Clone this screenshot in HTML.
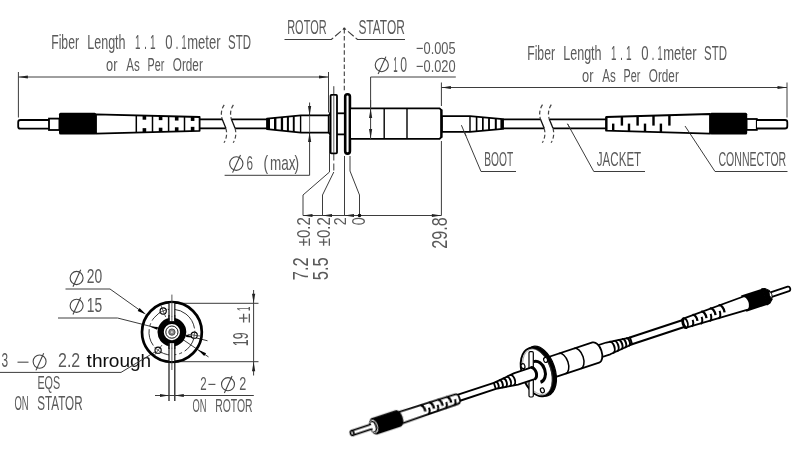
<!DOCTYPE html>
<html><head><meta charset="utf-8"><title>Fiber optic rotary joint drawing</title>
<style>
html,body{margin:0;padding:0;background:#fff;}
body{width:800px;height:454px;overflow:hidden;font-family:"Liberation Sans",sans-serif;}
svg{display:block;}
svg text{font-family:"Liberation Sans",sans-serif;}
</style></head><body>
<svg width="800" height="454" viewBox="0 0 800 454">
<defs><filter id="soft" x="0" y="0" width="800" height="454" filterUnits="userSpaceOnUse"><feGaussianBlur stdDeviation="0.35"/></filter></defs>
<rect x="0" y="0" width="800" height="454" fill="#ffffff"/>
<g filter="url(#soft)">
<text x="51.20" y="48.70" font-size="20.29" textLength="27.80" lengthAdjust="spacingAndGlyphs" fill="#5a5a5a" >Fiber</text>
<text x="87.20" y="48.70" font-size="20.29" textLength="38.40" lengthAdjust="spacingAndGlyphs" fill="#5a5a5a" >Length</text>
<text x="135.00" y="48.70" font-size="20.29" textLength="5.40" lengthAdjust="spacingAndGlyphs" fill="#5a5a5a" >1</text>
<text x="144.00" y="48.70" font-size="20.29" textLength="3.00" lengthAdjust="spacingAndGlyphs" fill="#5a5a5a" >.</text>
<text x="150.00" y="48.70" font-size="20.29" textLength="5.60" lengthAdjust="spacingAndGlyphs" fill="#5a5a5a" >1</text>
<text x="165.30" y="48.70" font-size="20.29" textLength="7.30" lengthAdjust="spacingAndGlyphs" fill="#5a5a5a" >0</text>
<text x="175.50" y="48.70" font-size="20.29" textLength="3.00" lengthAdjust="spacingAndGlyphs" fill="#5a5a5a" >.</text>
<text x="181.60" y="48.70" font-size="20.29" textLength="5.00" lengthAdjust="spacingAndGlyphs" fill="#5a5a5a" >1</text>
<text x="187.20" y="48.70" font-size="20.29" textLength="33.30" lengthAdjust="spacingAndGlyphs" fill="#5a5a5a" >meter</text>
<text x="228.00" y="48.70" font-size="20.29" textLength="22.90" lengthAdjust="spacingAndGlyphs" fill="#5a5a5a" >STD</text>
<text x="106.00" y="70.60" font-size="19.28" textLength="11.40" lengthAdjust="spacingAndGlyphs" fill="#5a5a5a" >or</text>
<text x="126.30" y="70.60" font-size="19.28" textLength="13.50" lengthAdjust="spacingAndGlyphs" fill="#5a5a5a" >As</text>
<text x="147.50" y="70.60" font-size="19.28" textLength="16.80" lengthAdjust="spacingAndGlyphs" fill="#5a5a5a" >Per</text>
<text x="172.80" y="70.60" font-size="19.28" textLength="30.00" lengthAdjust="spacingAndGlyphs" fill="#5a5a5a" >Order</text>
<text x="527.20" y="60.00" font-size="20.29" textLength="27.80" lengthAdjust="spacingAndGlyphs" fill="#5a5a5a" >Fiber</text>
<text x="563.20" y="60.00" font-size="20.29" textLength="38.40" lengthAdjust="spacingAndGlyphs" fill="#5a5a5a" >Length</text>
<text x="611.00" y="60.00" font-size="20.29" textLength="5.40" lengthAdjust="spacingAndGlyphs" fill="#5a5a5a" >1</text>
<text x="620.00" y="60.00" font-size="20.29" textLength="3.00" lengthAdjust="spacingAndGlyphs" fill="#5a5a5a" >.</text>
<text x="626.00" y="60.00" font-size="20.29" textLength="5.60" lengthAdjust="spacingAndGlyphs" fill="#5a5a5a" >1</text>
<text x="641.30" y="60.00" font-size="20.29" textLength="7.30" lengthAdjust="spacingAndGlyphs" fill="#5a5a5a" >0</text>
<text x="651.50" y="60.00" font-size="20.29" textLength="3.00" lengthAdjust="spacingAndGlyphs" fill="#5a5a5a" >.</text>
<text x="657.60" y="60.00" font-size="20.29" textLength="5.00" lengthAdjust="spacingAndGlyphs" fill="#5a5a5a" >1</text>
<text x="663.20" y="60.00" font-size="20.29" textLength="33.30" lengthAdjust="spacingAndGlyphs" fill="#5a5a5a" >meter</text>
<text x="704.00" y="60.00" font-size="20.29" textLength="22.90" lengthAdjust="spacingAndGlyphs" fill="#5a5a5a" >STD</text>
<text x="582.00" y="81.90" font-size="19.28" textLength="11.40" lengthAdjust="spacingAndGlyphs" fill="#5a5a5a" >or</text>
<text x="602.30" y="81.90" font-size="19.28" textLength="13.50" lengthAdjust="spacingAndGlyphs" fill="#5a5a5a" >As</text>
<text x="623.50" y="81.90" font-size="19.28" textLength="16.80" lengthAdjust="spacingAndGlyphs" fill="#5a5a5a" >Per</text>
<text x="648.80" y="81.90" font-size="19.28" textLength="30.00" lengthAdjust="spacingAndGlyphs" fill="#5a5a5a" >Order</text>
<text x="287.20" y="33.80" font-size="20.00" textLength="39.40" lengthAdjust="spacingAndGlyphs" fill="#5a5a5a" >ROTOR</text>
<text x="358.40" y="33.80" font-size="20.00" textLength="46.40" lengthAdjust="spacingAndGlyphs" fill="#5a5a5a" >STATOR</text>
<line x1="284.50" y1="39.50" x2="331.80" y2="39.50" stroke="#3c3c3c" stroke-width="1.0" />
<line x1="357.00" y1="39.50" x2="405.00" y2="39.50" stroke="#3c3c3c" stroke-width="1.0" />
<line x1="331.30" y1="39.50" x2="344.30" y2="28.30" stroke="#3c3c3c" stroke-width="1.1" stroke-dasharray="2.5 2.5 7.5 2.7 3"/>
<line x1="357.50" y1="39.50" x2="344.30" y2="28.30" stroke="#3c3c3c" stroke-width="1.1" stroke-dasharray="2.5 2.5 7.5 2.7 3"/>
<circle cx="344.3" cy="28.6" r="1.1" fill="#333"/>
<line x1="344.30" y1="29.00" x2="344.30" y2="93.00" stroke="#3c3c3c" stroke-width="1.1" stroke-dasharray="4.5 2.6"/>
<line x1="18.40" y1="72.00" x2="18.40" y2="117.50" stroke="#3c3c3c" stroke-width="1.0" />
<line x1="18.40" y1="77.00" x2="328.50" y2="77.00" stroke="#3c3c3c" stroke-width="1.0" />
<polygon points="18.40,77.00 27.90,75.40 27.90,78.60" fill="#222"/>
<polygon points="328.50,77.00 319.00,78.60 319.00,75.40" fill="#222"/>
<line x1="328.50" y1="72.00" x2="328.50" y2="112.50" stroke="#3c3c3c" stroke-width="1.0" />
<line x1="441.40" y1="82.50" x2="441.40" y2="106.00" stroke="#3c3c3c" stroke-width="1.0" />
<line x1="441.40" y1="87.50" x2="787.00" y2="87.50" stroke="#3c3c3c" stroke-width="1.0" />
<polygon points="441.40,87.50 450.90,85.90 450.90,89.10" fill="#222"/>
<polygon points="787.00,87.50 777.50,89.10 777.50,85.90" fill="#222"/>
<line x1="787.00" y1="82.50" x2="787.00" y2="117.50" stroke="#3c3c3c" stroke-width="1.0" />
<line x1="370.60" y1="77.00" x2="370.60" y2="139.00" stroke="#3c3c3c" stroke-width="1.0" />
<line x1="370.60" y1="77.00" x2="455.80" y2="77.00" stroke="#3c3c3c" stroke-width="1.0" />
<polygon points="370.60,108.40 372.20,117.90 369.00,117.90" fill="#222"/>
<polygon points="370.60,138.70 369.00,129.20 372.20,129.20" fill="#222"/>
<ellipse cx="381.80" cy="65.00" rx="6.57" ry="6.70" fill="none" stroke="#444" stroke-width="1.1"/>
<line x1="378.12" y1="73.91" x2="385.95" y2="56.62" stroke="#444" stroke-width="1.1" />
<text x="393.20" y="71.80" font-size="21.45" textLength="4.40" lengthAdjust="spacingAndGlyphs" fill="#5a5a5a" >1</text>
<text x="400.20" y="71.80" font-size="21.45" textLength="6.80" lengthAdjust="spacingAndGlyphs" fill="#5a5a5a" >0</text>
<text x="416.00" y="54.40" font-size="16.81" textLength="39.60" lengthAdjust="spacingAndGlyphs" fill="#5a5a5a" >−0.005</text>
<text x="416.00" y="72.00" font-size="16.81" textLength="39.60" lengthAdjust="spacingAndGlyphs" fill="#5a5a5a" >−0.020</text>
<line x1="309.60" y1="102.50" x2="309.60" y2="175.30" stroke="#3c3c3c" stroke-width="1.0" />
<line x1="224.60" y1="175.30" x2="309.60" y2="175.30" stroke="#3c3c3c" stroke-width="1.0" />
<polygon points="309.60,115.40 308.00,105.90 311.20,105.90" fill="#222"/>
<polygon points="309.60,132.50 311.20,142.00 308.00,142.00" fill="#222"/>
<ellipse cx="236.30" cy="163.60" rx="6.66" ry="6.80" fill="none" stroke="#444" stroke-width="1.1"/>
<line x1="232.56" y1="172.64" x2="240.52" y2="155.10" stroke="#444" stroke-width="1.1" />
<text x="246.60" y="170.00" font-size="19.42" textLength="6.50" lengthAdjust="spacingAndGlyphs" fill="#5a5a5a" >6</text>
<text x="263.60" y="170.00" font-size="20.72" textLength="4.60" lengthAdjust="spacingAndGlyphs" fill="#5a5a5a" >(</text>
<text x="270.00" y="170.00" font-size="19.42" textLength="25.60" lengthAdjust="spacingAndGlyphs" fill="#5a5a5a" >max</text>
<text x="294.60" y="170.00" font-size="20.72" textLength="4.60" lengthAdjust="spacingAndGlyphs" fill="#5a5a5a" >)</text>
<polyline points="461.40,125.20 481.00,171.50 516.00,171.50" fill="none" stroke="#3c3c3c" stroke-width="1.0" />
<text x="484.30" y="166.10" font-size="20.29" textLength="28.90" lengthAdjust="spacingAndGlyphs" fill="#5a5a5a" >BOOT</text>
<polyline points="567.50,123.80 593.80,171.50 645.00,171.50" fill="none" stroke="#3c3c3c" stroke-width="1.0" />
<text x="596.80" y="166.10" font-size="20.29" textLength="44.40" lengthAdjust="spacingAndGlyphs" fill="#5a5a5a" >JACKET</text>
<polyline points="685.00,126.00 715.00,171.50 787.50,171.50" fill="none" stroke="#3c3c3c" stroke-width="1.0" />
<text x="718.50" y="166.10" font-size="20.29" textLength="67.70" lengthAdjust="spacingAndGlyphs" fill="#5a5a5a" >CONNECTOR</text>
<polyline points="329.50,136.00 329.50,172.00 303.00,195.00 303.00,215.50" fill="none" stroke="#3c3c3c" stroke-width="1.0" />
<line x1="333.80" y1="153.50" x2="333.80" y2="172.00" stroke="#3c3c3c" stroke-width="1.0" stroke-dasharray="7 3"/>
<polyline points="333.80,172.00 322.50,195.00 322.50,215.50" fill="none" stroke="#3c3c3c" stroke-width="1.0" />
<line x1="344.50" y1="156.00" x2="344.50" y2="215.50" stroke="#3c3c3c" stroke-width="1.0" />
<polyline points="350.00,156.00 350.00,171.00 359.50,195.00 359.50,215.50" fill="none" stroke="#3c3c3c" stroke-width="1.0" />
<line x1="441.40" y1="141.00" x2="441.40" y2="215.50" stroke="#3c3c3c" stroke-width="1.0" />
<line x1="303.00" y1="215.50" x2="441.40" y2="215.50" stroke="#3c3c3c" stroke-width="1.0" />
<polygon points="303.00,215.50 312.50,213.90 312.50,217.10" fill="#222"/>
<polygon points="322.50,215.50 332.00,213.90 332.00,217.10" fill="#222"/>
<polygon points="344.50,215.50 354.00,213.90 354.00,217.10" fill="#222"/>
<polygon points="441.40,215.50 431.90,217.10 431.90,213.90" fill="#222"/>
<circle cx="359.5" cy="215.5" r="1.8" fill="#111"/>
<text transform="translate(307.90,280.20) rotate(-90)" x="0" y="0" font-size="21.74" textLength="22.90" lengthAdjust="spacingAndGlyphs" fill="#5a5a5a">7.2</text>
<text transform="translate(310.40,246.20) rotate(-90)" x="0" y="0" font-size="17.83" textLength="29.00" lengthAdjust="spacingAndGlyphs" fill="#5a5a5a">±0.2</text>
<text transform="translate(327.90,280.20) rotate(-90)" x="0" y="0" font-size="21.74" textLength="22.90" lengthAdjust="spacingAndGlyphs" fill="#5a5a5a">5.5</text>
<text transform="translate(330.40,246.20) rotate(-90)" x="0" y="0" font-size="17.83" textLength="29.00" lengthAdjust="spacingAndGlyphs" fill="#5a5a5a">±0.2</text>
<text transform="translate(346.00,225.20) rotate(-90)" x="0" y="0" font-size="16.67" textLength="8.00" lengthAdjust="spacingAndGlyphs" fill="#5a5a5a">2</text>
<text transform="translate(365.00,225.20) rotate(-90)" x="0" y="0" font-size="18.84" textLength="8.00" lengthAdjust="spacingAndGlyphs" fill="#5a5a5a">0</text>
<text transform="translate(446.50,248.80) rotate(-90)" x="0" y="0" font-size="21.74" textLength="31.60" lengthAdjust="spacingAndGlyphs" fill="#5a5a5a">29.8</text>
<path d="M49,120 H20.5 Q18.2,120 18.2,122.3 V126.4 Q18.2,128.7 20.5,128.7 H49" fill="#fff" stroke="#000" stroke-width="1.8"/>
<rect x="49.0" y="118.6" width="10.4" height="11.4" fill="#fff" stroke="#000" stroke-width="1.8"/>
<polygon points="96,114.3 199.6,117.0 199.6,130.8 96,133.6" fill="#fff" stroke="#000" stroke-width="1.8" stroke-linejoin="round"/>
<rect x="59" y="112.8" width="37.2" height="21.8" rx="1.5" fill="#000"/>
<line x1="136.30" y1="115.33" x2="136.30" y2="132.53" stroke="#000" stroke-width="1.5" />
<rect x="142.60" y="115.51" width="3.6" height="4.2" fill="#000"/>
<rect x="142.60" y="128.14" width="3.6" height="4.2" fill="#000"/>
<line x1="152.50" y1="115.75" x2="152.50" y2="132.09" stroke="#000" stroke-width="1.5" />
<rect x="158.80" y="115.94" width="3.6" height="4.2" fill="#000"/>
<rect x="158.80" y="127.70" width="3.6" height="4.2" fill="#000"/>
<line x1="168.60" y1="116.17" x2="168.60" y2="131.66" stroke="#000" stroke-width="1.5" />
<rect x="174.90" y="116.36" width="3.6" height="4.2" fill="#000"/>
<rect x="174.90" y="127.27" width="3.6" height="4.2" fill="#000"/>
<line x1="184.50" y1="116.59" x2="184.50" y2="131.23" stroke="#000" stroke-width="1.5" />
<rect x="190.80" y="116.77" width="3.6" height="4.2" fill="#000"/>
<rect x="190.80" y="126.84" width="3.6" height="4.2" fill="#000"/>
<line x1="199.60" y1="119.35" x2="222.30" y2="119.35" stroke="#000" stroke-width="1.8" />
<line x1="199.60" y1="128.35" x2="226.00" y2="128.35" stroke="#000" stroke-width="1.8" />
<line x1="231.50" y1="119.35" x2="267.00" y2="119.35" stroke="#000" stroke-width="1.8" />
<line x1="234.90" y1="128.35" x2="267.00" y2="128.35" stroke="#000" stroke-width="1.8" />
<path d="M224.20,104.8 C220.70,110 221.00,115 222.20,119.35" fill="none" stroke="#444" stroke-width="1.2" stroke-dasharray="4 2.4"/>
<line x1="222.20" y1="119.35" x2="225.90" y2="128.35" stroke="#111" stroke-width="1.3" />
<path d="M225.90,128.35 C227.20,133 226.80,138 224.00,142.8" fill="none" stroke="#444" stroke-width="1.2" stroke-dasharray="4 2.4"/>
<path d="M233.40,104.8 C229.90,110 230.20,115 231.40,119.35" fill="none" stroke="#444" stroke-width="1.2" stroke-dasharray="4 2.4"/>
<line x1="231.40" y1="119.35" x2="235.10" y2="128.35" stroke="#111" stroke-width="1.3" />
<path d="M235.10,128.35 C236.40,133 236.00,138 233.20,142.8" fill="none" stroke="#444" stroke-width="1.2" stroke-dasharray="4 2.4"/>
<polygon points="267,118.6 301,115.3 328.7,115.3 328.7,132.6 301,132.6 267,129.1" fill="#fff" stroke="#000" stroke-width="1.8" stroke-linejoin="round"/>
<rect x="267.00" y="118.45" width="3.0" height="10.80" fill="#000"/>
<rect x="274.00" y="117.80" width="2.4" height="12.14" fill="#000"/>
<rect x="280.80" y="117.15" width="2.3" height="13.49" fill="#000"/>
<rect x="286.90" y="116.57" width="2.0" height="14.68" fill="#000"/>
<rect x="292.80" y="116.00" width="1.9" height="15.85" fill="#000"/>
<rect x="299.90" y="115.34" width="1.4" height="17.22" fill="#000"/>
<line x1="309.60" y1="115.40" x2="309.60" y2="132.50" stroke="#555" stroke-width="0.9" />
<line x1="333.80" y1="86.20" x2="333.80" y2="95.00" stroke="#3c3c3c" stroke-width="1.0" />
<path d="M328.7,115.3 Q330.2,114.6 330.5,112 M328.7,132.6 Q330.2,133.3 330.5,136" fill="none" stroke="#000" stroke-width="1.8"/>
<rect x="330.6" y="94.9" width="6.4" height="58.4" rx="0.8" fill="#fff" stroke="#000" stroke-width="1.8"/>
<line x1="333.80" y1="95.00" x2="333.80" y2="153.00" stroke="#555" stroke-width="0.9" />
<line x1="337.10" y1="113.30" x2="344.50" y2="113.30" stroke="#000" stroke-width="1.8" />
<line x1="337.10" y1="134.40" x2="344.50" y2="134.40" stroke="#000" stroke-width="1.8" />
<rect x="345.2" y="94.2" width="4.7" height="59.4" rx="2.3" fill="#fff" stroke="#000" stroke-width="2.6"/>
<path d="M351,108.4 H439.6 L441.4,110.2 V137.0 L439.6,138.8 H351" fill="#fff" stroke="#000" stroke-width="1.8" stroke-linejoin="round"/>
<line x1="441.40" y1="109.50" x2="441.40" y2="137.70" stroke="#000" stroke-width="2.2" />
<line x1="384.20" y1="108.40" x2="384.20" y2="138.80" stroke="#000" stroke-width="1.4" />
<line x1="407.00" y1="108.40" x2="407.00" y2="138.80" stroke="#000" stroke-width="1.4" />
<line x1="370.60" y1="100.00" x2="370.60" y2="139.00" stroke="#3c3c3c" stroke-width="1.0" />
<polygon points="370.60,108.60 372.20,118.10 369.00,118.10" fill="#222"/>
<polygon points="370.60,138.60 369.00,129.10 372.20,129.10" fill="#222"/>
<polygon points="442,116.2 470,116.2 503,119.2 503,128.9 470,131.8 442,131.8" fill="#fff" stroke="#000" stroke-width="1.8" stroke-linejoin="round"/>
<rect x="469.30" y="116.20" width="1.4" height="15.60" fill="#000"/>
<rect x="475.80" y="116.80" width="1.6" height="14.42" fill="#000"/>
<rect x="482.00" y="117.37" width="1.7" height="13.30" fill="#000"/>
<rect x="488.10" y="117.93" width="1.8" height="12.20" fill="#000"/>
<rect x="494.80" y="118.55" width="2.0" height="10.99" fill="#000"/>
<rect x="500.40" y="119.10" width="3.0" height="9.90" fill="#000"/>
<line x1="503.00" y1="119.35" x2="540.60" y2="119.35" stroke="#000" stroke-width="1.8" />
<line x1="503.00" y1="128.35" x2="544.30" y2="128.35" stroke="#000" stroke-width="1.8" />
<line x1="549.40" y1="119.35" x2="606.00" y2="119.35" stroke="#000" stroke-width="1.8" />
<line x1="553.00" y1="128.35" x2="606.00" y2="128.35" stroke="#000" stroke-width="1.8" />
<path d="M542.50,104.6 C539.00,110 539.30,115 540.50,119.35" fill="none" stroke="#444" stroke-width="1.2" stroke-dasharray="4 2.4"/>
<line x1="540.50" y1="119.35" x2="544.20" y2="128.35" stroke="#111" stroke-width="1.3" />
<path d="M544.20,128.35 C545.50,133 545.10,138 542.30,142.8" fill="none" stroke="#444" stroke-width="1.2" stroke-dasharray="4 2.4"/>
<path d="M551.30,104.6 C547.80,110 548.10,115 549.30,119.35" fill="none" stroke="#444" stroke-width="1.2" stroke-dasharray="4 2.4"/>
<line x1="549.30" y1="119.35" x2="553.00" y2="128.35" stroke="#111" stroke-width="1.3" />
<path d="M553.00,128.35 C554.30,133 553.90,138 551.10,142.8" fill="none" stroke="#444" stroke-width="1.2" stroke-dasharray="4 2.4"/>
<polygon points="606.2,117.0 710,114.0 710,133.6 606.2,130.7" fill="#fff" stroke="#000" stroke-width="1.8" stroke-linejoin="round"/>
<line x1="606.40" y1="117.00" x2="606.40" y2="130.70" stroke="#000" stroke-width="2.2" />
<rect x="620.70" y="116.55" width="2.4" height="9.05" fill="#000"/>
<rect x="636.40" y="116.09" width="2.4" height="9.51" fill="#000"/>
<rect x="652.30" y="115.63" width="2.4" height="9.97" fill="#000"/>
<rect x="668.20" y="115.17" width="2.4" height="10.43" fill="#000"/>
<rect x="612.00" y="123.6" width="2.4" height="7.30" fill="#000"/>
<rect x="627.80" y="123.6" width="2.4" height="7.74" fill="#000"/>
<rect x="643.80" y="123.6" width="2.4" height="8.18" fill="#000"/>
<rect x="659.70" y="123.6" width="2.4" height="8.63" fill="#000"/>
<rect x="710" y="112.8" width="37.2" height="21.8" rx="1.5" fill="#000"/>
<rect x="746.6" y="119.0" width="10.2" height="10.9" fill="#fff" stroke="#000" stroke-width="1.8"/>
<path d="M757,120 H785.0 Q787.3,120 787.3,122.3 V126.2 Q787.3,128.5 785.0,128.5 H757" fill="#fff" stroke="#000" stroke-width="1.8"/>
<line x1="461.40" y1="125.20" x2="466.00" y2="136.00" stroke="#3c3c3c" stroke-width="1.0" />
<line x1="567.50" y1="123.80" x2="570.50" y2="129.20" stroke="#3c3c3c" stroke-width="1.0" />
<line x1="685.00" y1="126.00" x2="690.00" y2="133.50" stroke="#3c3c3c" stroke-width="1.0" />
<ellipse cx="76.60" cy="278.00" rx="6.47" ry="6.60" fill="none" stroke="#444" stroke-width="1.1"/>
<line x1="72.97" y1="286.78" x2="80.69" y2="269.75" stroke="#444" stroke-width="1.1" />
<text x="86.80" y="283.40" font-size="19.42" textLength="15.40" lengthAdjust="spacingAndGlyphs" fill="#5a5a5a" >20</text>
<polyline points="65.50,289.00 110.00,289.00 143.60,312.90" fill="none" stroke="#3c3c3c" stroke-width="1.0" />
<ellipse cx="76.60" cy="305.80" rx="6.47" ry="6.60" fill="none" stroke="#444" stroke-width="1.1"/>
<line x1="72.97" y1="314.58" x2="80.69" y2="297.55" stroke="#444" stroke-width="1.1" />
<text x="86.80" y="312.10" font-size="19.42" textLength="15.40" lengthAdjust="spacingAndGlyphs" fill="#5a5a5a" >15</text>
<text x="1.60" y="367.20" font-size="19.42" textLength="6.60" lengthAdjust="spacingAndGlyphs" fill="#5a5a5a" >3</text>
<line x1="17.50" y1="362.20" x2="28.50" y2="362.20" stroke="#5a5a5a" stroke-width="1.2" />
<ellipse cx="39.60" cy="361.60" rx="6.47" ry="6.60" fill="none" stroke="#444" stroke-width="1.1"/>
<line x1="35.97" y1="370.38" x2="43.69" y2="353.35" stroke="#444" stroke-width="1.1" />
<text x="58.00" y="367.20" font-size="19.42" textLength="22.20" lengthAdjust="spacingAndGlyphs" fill="#5a5a5a" >2.2</text>
<text x="86.6" y="367.45" font-size="18.3" textLength="64.6" lengthAdjust="spacingAndGlyphs" fill="#0a0a0a">through</text>
<polyline points="0.00,372.40 121.00,372.40 155.60,351.60" fill="none" stroke="#3c3c3c" stroke-width="1.0" />
<text x="37.40" y="389.20" font-size="19.13" textLength="22.80" lengthAdjust="spacingAndGlyphs" fill="#5a5a5a" >EQS</text>
<text x="14.40" y="409.80" font-size="19.42" textLength="14.20" lengthAdjust="spacingAndGlyphs" fill="#5a5a5a" >ON</text>
<text x="37.20" y="409.80" font-size="19.42" textLength="45.40" lengthAdjust="spacingAndGlyphs" fill="#5a5a5a" >STATOR</text>
<text x="200.20" y="390.20" font-size="19.13" textLength="6.40" lengthAdjust="spacingAndGlyphs" fill="#5a5a5a" >2</text>
<line x1="208.40" y1="384.40" x2="215.40" y2="384.40" stroke="#5a5a5a" stroke-width="1.2" />
<ellipse cx="228.00" cy="384.20" rx="6.47" ry="6.60" fill="none" stroke="#444" stroke-width="1.1"/>
<line x1="224.37" y1="392.98" x2="232.09" y2="375.95" stroke="#444" stroke-width="1.1" />
<text x="239.20" y="390.20" font-size="19.13" textLength="7.00" lengthAdjust="spacingAndGlyphs" fill="#5a5a5a" >2</text>
<text x="192.40" y="412.20" font-size="19.13" textLength="14.00" lengthAdjust="spacingAndGlyphs" fill="#5a5a5a" >ON</text>
<text x="215.20" y="412.20" font-size="19.13" textLength="37.40" lengthAdjust="spacingAndGlyphs" fill="#5a5a5a" >ROTOR</text>
<polyline points="58.00,318.00 117.50,318.00 207.50,340.77" fill="none" stroke="#3c3c3c" stroke-width="1.0" />
<line x1="171.90" y1="332.10" x2="208.50" y2="356.93" stroke="#3c3c3c" stroke-width="1.0" />
<line x1="171.90" y1="303.30" x2="258.50" y2="303.30" stroke="#3c3c3c" stroke-width="1.0" />
<line x1="171.90" y1="361.70" x2="258.50" y2="361.70" stroke="#3c3c3c" stroke-width="1.0" />
<line x1="253.60" y1="290.00" x2="253.60" y2="375.50" stroke="#3c3c3c" stroke-width="1.0" />
<polygon points="253.60,303.30 252.00,293.80 255.20,293.80" fill="#222"/>
<polygon points="253.60,361.70 255.20,371.20 252.00,371.20" fill="#222"/>
<text transform="translate(248.40,346.20) rotate(-90)" x="0" y="0" font-size="21.16" textLength="13.80" lengthAdjust="spacingAndGlyphs" fill="#5a5a5a">19</text>
<text transform="translate(250.00,323.00) rotate(-90)" x="0" y="0" font-size="18.12" textLength="9.80" lengthAdjust="spacingAndGlyphs" fill="#5a5a5a">±</text>
<text transform="translate(250.00,311.00) rotate(-90)" x="0" y="0" font-size="18.12" textLength="4.40" lengthAdjust="spacingAndGlyphs" fill="#5a5a5a">1</text>
<circle cx="171.9" cy="332.1" r="29.9" fill="none" stroke="#000" stroke-width="2.7"/>
<circle cx="171.9" cy="332.1" r="22.9" fill="none" stroke="#333" stroke-width="0.9" stroke-dasharray="17 3 3 3" transform="rotate(-52 171.9 332.1)"/>
<circle cx="163.2" cy="311.0" r="3.1" fill="#fff" stroke="#000" stroke-width="1.1"/>
<line x1="165.68" y1="317.01" x2="160.72" y2="304.99" stroke="#333" stroke-width="0.8" />
<line x1="159.04" y1="312.72" x2="167.36" y2="309.28" stroke="#333" stroke-width="0.8" />
<circle cx="194.2" cy="335.2" r="3.1" fill="#fff" stroke="#000" stroke-width="1.1"/>
<line x1="187.76" y1="334.31" x2="200.64" y2="336.09" stroke="#333" stroke-width="0.8" />
<line x1="194.82" y1="330.74" x2="193.58" y2="339.66" stroke="#333" stroke-width="0.8" />
<circle cx="158.1" cy="350.2" r="3.1" fill="#fff" stroke="#000" stroke-width="1.1"/>
<line x1="162.04" y1="345.03" x2="154.16" y2="355.37" stroke="#333" stroke-width="0.8" />
<line x1="161.68" y1="352.93" x2="154.52" y2="347.47" stroke="#333" stroke-width="0.8" />
<polygon points="146.08,314.58 137.68,310.94 139.59,308.12" fill="#000"/>
<polygon points="197.72,349.62 206.12,353.26 204.21,356.08" fill="#000"/>
<polygon points="149.70,326.48 157.80,327.09 157.11,329.80" fill="#000"/>
<polygon points="194.10,337.72 186.00,337.11 186.69,334.40" fill="#000"/>
<rect x="169.0" y="303.2" width="5.8" height="57.8" fill="#fff"/>
<line x1="169.00" y1="302.40" x2="169.00" y2="401.00" stroke="#111" stroke-width="1.2" />
<line x1="174.80" y1="302.40" x2="174.80" y2="401.00" stroke="#111" stroke-width="1.2" />
<line x1="171.90" y1="294.60" x2="171.90" y2="370.00" stroke="#444" stroke-width="0.9" />
<circle cx="171.9" cy="332.1" r="11.25" fill="#fff" stroke="#000" stroke-width="6.3"/>
<rect x="169.6" y="316.5" width="4.6" height="4.6" fill="#fff"/>
<rect x="169.6" y="343.2" width="4.6" height="4.6" fill="#fff"/>
<line x1="169.00" y1="315.00" x2="169.00" y2="321.50" stroke="#111" stroke-width="1.2" />
<line x1="174.80" y1="315.00" x2="174.80" y2="321.50" stroke="#111" stroke-width="1.2" />
<line x1="169.00" y1="342.80" x2="169.00" y2="349.00" stroke="#111" stroke-width="1.2" />
<line x1="174.80" y1="342.80" x2="174.80" y2="349.00" stroke="#111" stroke-width="1.2" />
<line x1="171.90" y1="316.00" x2="171.90" y2="321.00" stroke="#444" stroke-width="0.9" />
<line x1="171.90" y1="343.40" x2="171.90" y2="348.50" stroke="#444" stroke-width="0.9" />
<circle cx="171.9" cy="332.1" r="6.1" fill="#fff" stroke="#111" stroke-width="1.0"/>
<circle cx="171.9" cy="332.1" r="3.2" fill="#8a8a8a" stroke="#333" stroke-width="0.8"/>
<circle cx="171.9" cy="332.1" r="0.9" fill="#eee"/>
<line x1="155.00" y1="395.50" x2="253.80" y2="395.50" stroke="#3c3c3c" stroke-width="1.0" />
<polygon points="169.00,395.50 160.00,397.00 160.00,394.00" fill="#222"/>
<polygon points="174.80,395.50 183.80,394.00 183.80,397.00" fill="#222"/>
<g transform="translate(539,371.3) rotate(-18.28)" stroke-linejoin="round" stroke-linecap="butt">
<path d="M243,-2.35 L262.6,-2.35 A1.9,2.35 0 0 1 262.6,2.35 L243,2.35" fill="#fff" stroke="#000" stroke-width="1.8"/>
<path d="M237.5,-8.5 L240.4,-7.9 L244.0,-4.6 L244.0,4.6 L240.4,7.9 L237.5,8.5 Z" fill="#000" stroke="#000" stroke-width="1"/>
<path d="M243.6,-4.0 Q246.8,0 243.6,4.0 Q241.6,0 243.6,-4.0 Z" fill="#fff" stroke="#000" stroke-width="0.9"/>
<rect x="215.6" y="-8.5" width="22.4" height="17.0" fill="#000"/>
<path d="M153.50,-4.70 L217.60,-6.90 A3.86,6.90 0 0 1 217.60,6.90 L153.50,4.70" fill="#fff" stroke="#000" stroke-width="1.8"/>
<ellipse cx="153.80" cy="0.00" rx="2.60" ry="4.70" fill="#fff" stroke="#000" stroke-width="1.8"/>
<path d="M163.50,-5.25 A2.94,5.25 0 0 1 166.29,1.84" fill="none" stroke="#000" stroke-width="2.3"/>
<path d="M161.98,-0.53 A2.94,5.25 0 0 1 159.10,5.25" fill="none" stroke="#000" stroke-width="2.0"/>
<path d="M172.80,-5.58 A3.12,5.58 0 0 1 175.77,1.95" fill="none" stroke="#000" stroke-width="2.3"/>
<path d="M171.46,-0.56 A3.12,5.58 0 0 1 168.40,5.58" fill="none" stroke="#000" stroke-width="2.0"/>
<path d="M182.10,-5.90 A3.30,5.90 0 0 1 185.24,2.07" fill="none" stroke="#000" stroke-width="2.3"/>
<path d="M180.94,-0.59 A3.30,5.90 0 0 1 177.70,5.90" fill="none" stroke="#000" stroke-width="2.0"/>
<path d="M191.40,-6.23 A3.49,6.23 0 0 1 194.71,2.18" fill="none" stroke="#000" stroke-width="2.3"/>
<path d="M190.42,-0.62 A3.49,6.23 0 0 1 187.00,6.23" fill="none" stroke="#000" stroke-width="2.0"/>
<rect x="96" y="-3.5" width="58" height="7.0" fill="#fff" stroke="none"/>
<line x1="96.00" y1="-3.50" x2="152.60" y2="-3.50" stroke="#000" stroke-width="2.1" />
<line x1="96.00" y1="3.50" x2="152.60" y2="3.50" stroke="#000" stroke-width="2.1" />
<path d="M154.2,-4.8 A2.4,4.8 0 0 0 154.2,4.8" fill="none" stroke="#000" stroke-width="2.8"/>
<path d="M58,-6.2 L73,-6.2 L97,-3.5 L97,3.5 L73,6.2 L58,6.2 Z" fill="#fff" stroke="#000" stroke-width="1.8"/>
<path d="M76.00,-5.86 A3.28,5.86 0 0 1 76.00,5.86" fill="none" stroke="#000" stroke-width="2.0"/>
<path d="M80.40,-5.37 A3.01,5.37 0 0 1 80.40,5.37" fill="none" stroke="#000" stroke-width="2.0"/>
<path d="M84.80,-4.87 A2.73,4.87 0 0 1 84.80,4.87" fill="none" stroke="#000" stroke-width="2.0"/>
<path d="M89.00,-4.40 A2.46,4.40 0 0 1 89.00,4.40" fill="none" stroke="#000" stroke-width="2.0"/>
<path d="M93.20,-3.93 A2.20,3.93 0 0 1 93.20,3.93" fill="none" stroke="#000" stroke-width="2.0"/>
<path d="M4.00,-10.60 L59.80,-10.60 A5.94,10.60 0 0 1 59.80,10.60 L4.00,10.60" fill="#fff" stroke="#000" stroke-width="1.8"/>
<path d="M24.50,-10.60 A5.94,10.60 0 0 1 24.50,10.60" fill="none" stroke="#000" stroke-width="1.5"/>
<path d="M40.50,-10.60 A5.94,10.60 0 0 1 40.50,10.60" fill="none" stroke="#000" stroke-width="1.5"/>
<ellipse cx="0.90" cy="0.20" rx="15.20" ry="25.80" fill="#000" stroke="#000" stroke-width="1.2"/>
<ellipse cx="-2.40" cy="0.00" rx="14.70" ry="25.00" fill="#fff" stroke="#000" stroke-width="1.9"/>
<ellipse cx="-1.60" cy="0.00" rx="13.60" ry="23.60" fill="none" stroke="#555" stroke-width="0.5"/>
<path d="M-2.0,-10.9 A8.0,10.9 0 0 1 -2.0,10.9" fill="#fff" stroke="#000" stroke-width="3.0"/>
</g>
<ellipse cx="545.6" cy="360.0" rx="1.9" ry="2.5" fill="#fff" stroke="#000" stroke-width="1.2" transform="rotate(-18.28 545.6 360.0)"/>
<ellipse cx="523.0" cy="366.2" rx="1.9" ry="2.5" fill="#fff" stroke="#000" stroke-width="1.2" transform="rotate(-18.28 523.0 366.2)"/>
<ellipse cx="542.4" cy="390.4" rx="1.9" ry="2.5" fill="#fff" stroke="#000" stroke-width="1.2" transform="rotate(-18.28 542.4 390.4)"/>
<rect x="529.0" y="351.6" width="4.3" height="45.4" rx="1.2" fill="#fff" stroke="#000" stroke-width="1.2"/>
<g transform="translate(539,371.3) rotate(-18.28)" stroke-linejoin="round">
<path d="M-6.6,-6.0 A3.6,6.0 0 0 1 -6.6,6.0 L-24,6.0 L-46.5,3.2 L-46.5,-3.2 L-24,-6.0 Z" fill="#fff" stroke="#000" stroke-width="1.8"/>
<path d="M-6.6,-6.0 A3.6,6.0 0 0 1 -6.6,6.0" fill="none" stroke="#000" stroke-width="3.0"/>
<path d="M-44.60,-3.34 A1.87,3.34 0 0 1 -44.60,3.34" fill="none" stroke="#000" stroke-width="1.9"/>
<path d="M-40.60,-3.86 A2.16,3.86 0 0 1 -40.60,3.86" fill="none" stroke="#000" stroke-width="1.9"/>
<path d="M-36.60,-4.38 A2.45,4.38 0 0 1 -36.60,4.38" fill="none" stroke="#000" stroke-width="1.9"/>
<path d="M-32.60,-4.89 A2.74,4.89 0 0 1 -32.60,4.89" fill="none" stroke="#000" stroke-width="1.9"/>
<path d="M-28.60,-5.41 A3.03,5.41 0 0 1 -28.60,5.41" fill="none" stroke="#000" stroke-width="1.9"/>
<line x1="-85.00" y1="-3.20" x2="-46.50" y2="-3.20" stroke="#000" stroke-width="2.0" />
<line x1="-85.00" y1="3.20" x2="-46.50" y2="3.20" stroke="#000" stroke-width="2.0" />
<g transform="translate(0,0.6)">
<path d="M-148.00,-6.00 L-86.60,-4.90 A2.74,4.90 0 0 1 -86.60,4.90 L-148.00,6.00" fill="#fff" stroke="#000" stroke-width="1.8"/>
<path d="M-123.50,-5.54 A3.10,5.54 0 0 1 -120.55,1.94" fill="none" stroke="#000" stroke-width="2.3"/>
<path d="M-115.86,-0.55 A3.10,5.54 0 0 1 -118.90,5.54" fill="none" stroke="#000" stroke-width="2.0"/>
<path d="M-114.30,-5.36 A3.00,5.36 0 0 1 -111.45,1.88" fill="none" stroke="#000" stroke-width="2.3"/>
<path d="M-106.76,-0.54 A3.00,5.36 0 0 1 -109.70,5.36" fill="none" stroke="#000" stroke-width="2.0"/>
<path d="M-105.10,-5.19 A2.91,5.19 0 0 1 -102.34,1.82" fill="none" stroke="#000" stroke-width="2.3"/>
<path d="M-97.65,-0.52 A2.91,5.19 0 0 1 -100.50,5.19" fill="none" stroke="#000" stroke-width="2.0"/>
<path d="M-95.90,-5.01 A2.81,5.01 0 0 1 -93.23,1.75" fill="none" stroke="#000" stroke-width="2.3"/>
<path d="M-88.55,-0.50 A2.81,5.01 0 0 1 -91.30,5.01" fill="none" stroke="#000" stroke-width="2.0"/>
<path d="M-173.5,-8.3 L-148.5,-8.3 A4.4,8.3 0 0 1 -148.5,8.3 L-173.5,8.3 Z" fill="#000" stroke="#000" stroke-width="0.6"/>
<ellipse cx="-173.50" cy="0.00" rx="4.50" ry="8.30" fill="#000" stroke="#000" stroke-width="0.6"/>
<ellipse cx="-174.00" cy="0.00" rx="3.90" ry="7.00" fill="#fff" stroke="#000" stroke-width="0.1"/>
<ellipse cx="-174.40" cy="0.00" rx="3.30" ry="6.00" fill="#000" stroke="#000" stroke-width="0.1"/>
<ellipse cx="-175.20" cy="0.00" rx="2.60" ry="4.80" fill="#fff" stroke="#000" stroke-width="0.1"/>
</g>
<path d="M-176,-2.45 L-196.6,-2.45 L-196.6,2.45 L-176,2.45" fill="#fff" stroke="#000" stroke-width="1.8"/>
<rect x="-177.4" y="-1.55" width="2.6" height="3.1" fill="#fff"/>
<ellipse cx="-196.80" cy="0.00" rx="1.70" ry="2.50" fill="#fff" stroke="#000" stroke-width="1.6"/>
<ellipse cx="-197.00" cy="0.00" rx="0.50" ry="0.90" fill="#999" stroke="#777" stroke-width="0.3"/>
</g>
</g>
</svg>
</body></html>
